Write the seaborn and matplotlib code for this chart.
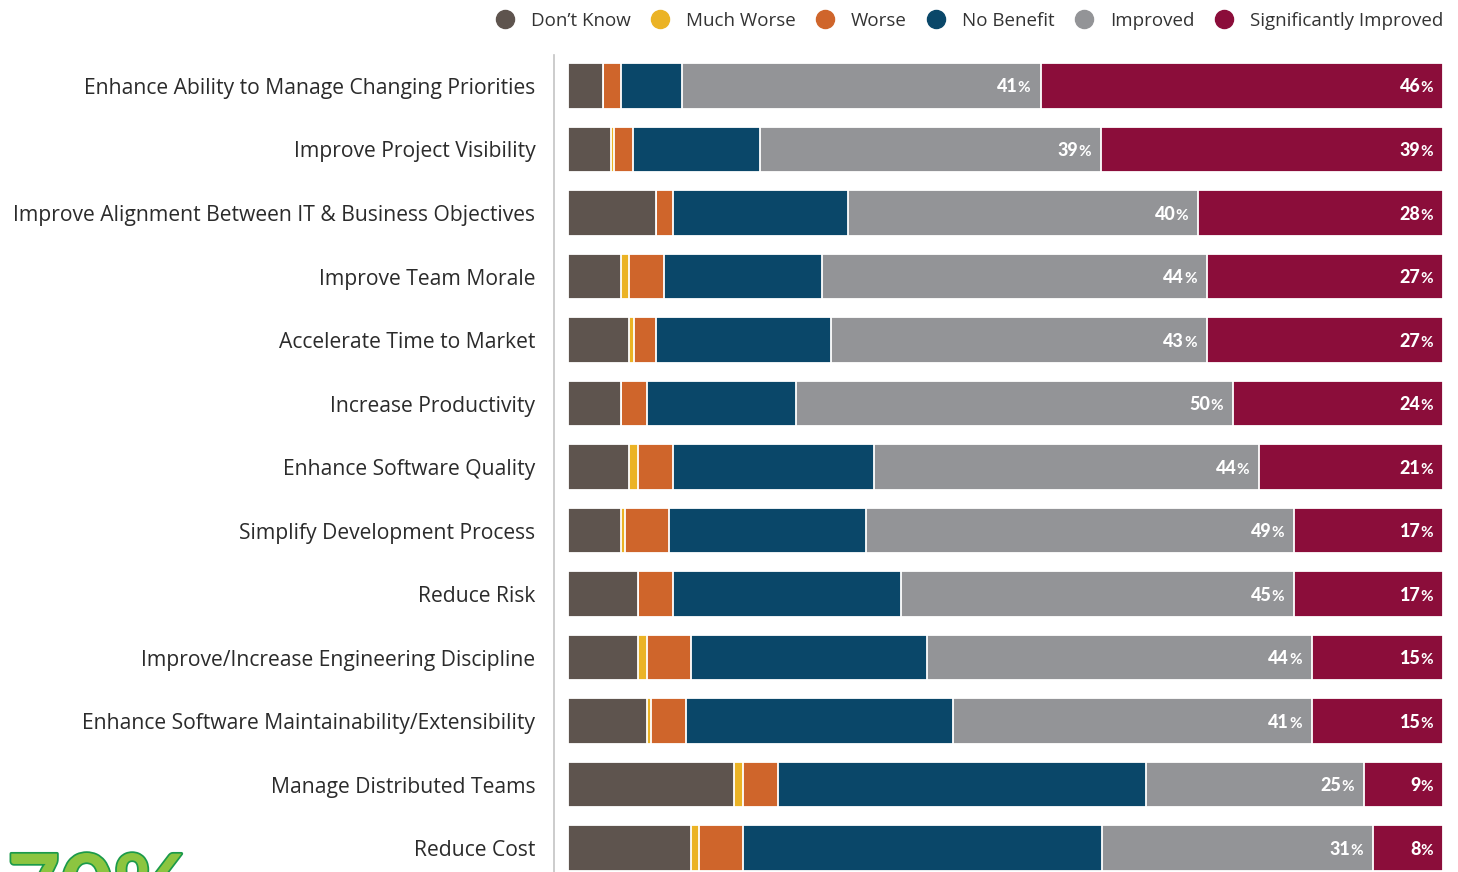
import matplotlib
matplotlib.use("Agg")
import matplotlib.pyplot as plt
import matplotlib.patheffects as pe
from matplotlib.lines import Line2D
import pandas as pd
import seaborn as sns

categories = [
    "Enhance Ability to Manage Changing Priorities",
    "Improve Project Visibility",
    "Improve Alignment Between IT & Business Objectives",
    "Improve Team Morale",
    "Accelerate Time to Market",
    "Increase Productivity",
    "Enhance Software Quality",
    "Simplify Development Process",
    "Reduce Risk",
    "Improve/Increase Engineering Discipline",
    "Enhance Software Maintainability/Extensibility",
    "Manage Distributed Teams",
    "Reduce Cost",
]
dont_know = [4, 4.9, 10, 6, 7, 6, 7, 6, 8, 8, 9, 19, 14]
much_worse = [0, 0.4, 0, 1, 0.5, 0, 1, 0.5, 0, 1, 0.5, 1, 1]
worse = [2, 2.1, 2, 4, 2.5, 3, 4, 5, 4, 5, 4, 4, 5]
no_benefit = [7, 14.5, 20, 18, 20, 17, 23, 22.5, 26, 27, 30.5, 42, 41]
improved = [41, 39, 40, 44, 43, 50, 44, 49, 45, 44, 41, 25, 31]
sig_improved = [46, 39.1, 28, 27, 27, 24, 21, 17, 17, 15, 15, 9, 8]

series_names = ["Don\u2019t Know", "Much Worse", "Worse", "No Benefit",
                "Improved", "Significantly Improved"]
colors = ["#5e544e", "#ebb325", "#cf652b", "#0a4769", "#939497", "#8b0d3a"]

df = pd.DataFrame({
    "cat": categories,
    series_names[0]: dont_know,
    series_names[1]: much_worse,
    series_names[2]: worse,
    series_names[3]: no_benefit,
    series_names[4]: improved,
    series_names[5]: sig_improved,
})
cum = df[series_names].cumsum(axis=1)
cum["cat"] = df["cat"]

sns.set_style("white")
plt.rcParams["font.family"] = ["Open Sans", "DejaVu Sans"]

fig = plt.figure(figsize=(14.58, 8.72), dpi=100)
ax = fig.add_axes([554 / 1458, 0, 889 / 1458, 817 / 872])

# stacked bars: draw cumulative totals from the right, smaller ones on top
for name, col in zip(series_names[::-1], colors[::-1]):
    sns.barplot(data=cum, x=name, y="cat", orient="h", color=col,
                saturation=1, width=0.71, edgecolor="white", linewidth=1.3,
                errorbar=None, ax=ax)

ax.set_xlim(-1.6, 100)
ax.set_ylim(12 + 24 / 63.5, -31 / 63.5)
ax.set_xlabel("")
ax.set_ylabel("")
ax.set_xticks([])
ax.tick_params(axis="y", length=0, pad=13.5, labelsize=15.2, labelcolor="#2b2b2b")
for s in ["top", "right", "bottom"]:
    ax.spines[s].set_visible(False)
ax.spines["left"].set_color("#c4c4c4")
ax.spines["left"].set_linewidth(1.2)

# value labels on Improved and Significantly Improved
fig.canvas.draw()
renderer = fig.canvas.get_renderer()
for i in range(len(categories)):
    for name in series_names[4:]:
        end = cum.loc[i, name]
        val = round(df.loc[i, name])
        pct = ax.annotate("%", (end, i), xytext=(-10, -6.5),
                          textcoords="offset pixels", ha="right",
                          va="baseline", color="white", fontsize=11,
                          fontweight="bold", family="Lato")
        w = pct.get_window_extent(renderer).width
        ax.annotate(str(val), (end, i), xytext=(-10 - w, -6.5),
                    textcoords="offset pixels", ha="right", va="baseline",
                    color="white", fontsize=13, fontweight="black",
                    family="Lato")

handles = [Line2D([], [], marker="o", ls="", markersize=13, color=c)
           for c in colors]
fig.legend(handles, series_names, ncol=6, loc="center right",
           bbox_to_anchor=(1443 / 1458, 1 - 21 / 872), frameon=False,
           fontsize=13.5, handletextpad=0.4, columnspacing=0.55,
           borderpad=0, borderaxespad=0, labelcolor="#333333")

# cropped headline figure at the bottom edge
fig.text(7 / 1458, -0.055, "70%", fontsize=66, fontweight="bold",
         color="#8cc540", ha="left", va="baseline", family="Lato",
         path_effects=[pe.withStroke(linewidth=2.5, foreground="#1b9a4a")])

fig.savefig("out.png", dpi=100)
